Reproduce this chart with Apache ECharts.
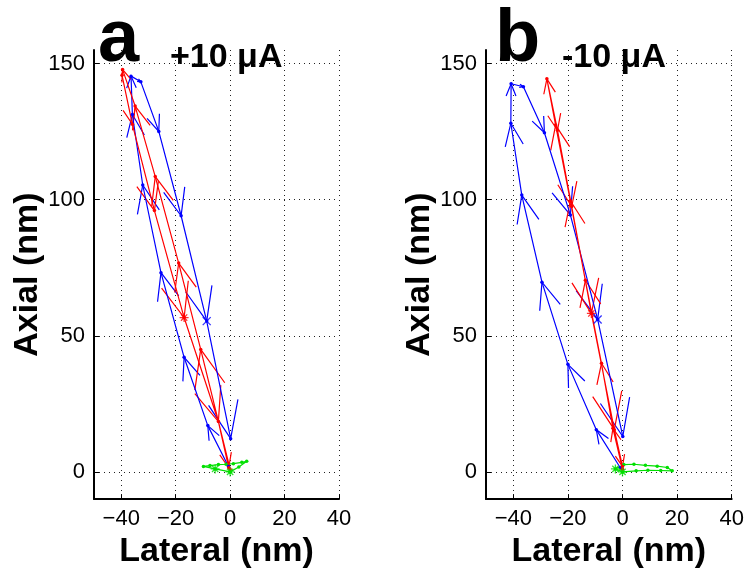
<!DOCTYPE html>
<html>
<head>
<meta charset="utf-8">
<script src="https://cdn.jsdelivr.net/npm/echarts@6/dist/echarts.min.js"></script>
<style>
  html, body { margin: 0; padding: 0; background: #fff; }
  #chart { width: 750px; height: 574px; }
</style>
</head>
<body>
<div id="chart"></div>
<script>
// tick values
const xTicks = [-40, -20, 0, 20, 40]
const yTicks = [0, 50, 100, 150]

// panel a, +10 uA  (lateral nm, axial nm), in time order
const blueA = [[-0.6, 2.0], [-8.2, 17.0], [-16.9, 42.1], [-25.4, 73.2], [-32.1, 105.4], [-35.9, 131.3],
  [-36.4, 145.4], [-32.8, 143.3], [-26.2, 125.1], [-18.0, 94.1], [-8.6, 55.4], [0.2, 12.2]]
const redA = [[0, 1], [-10.8, 45.0], [-18.9, 76.7], [-27.5, 108.5], [-34.9, 134.4], [-39.5, 147.8],
  [-39.7, 145.7], [-35.9, 127.7], [-27.8, 96.0], [-16.9, 56.7], [-4.3, 18.5], [-0.5, 1.5]]
const greenA = [[0, 0], [-5.5, 1.1], [-9.8, 2.0], [-7.4, 2.3], [-4.3, 2.7], [-1.5, 2.8], [1.2, 3.0],
  [4.3, 3.5], [6.1, 3.9], [3.2, 1.8], [0, 0]]
const blueMarkA = [[-8.6, 55.4]]
const redMarkA = [[-16.9, 56.7]]
const greenMarkA = [[0, 0], [-5.5, 1.1]]

// panel b, -10 uA
const blueB = [[-0.8, 1.5], [-9.6, 15.5], [-20.0, 39.5], [-29.5, 69.7], [-36.9, 101.7], [-40.9, 128.1],
  [-40.8, 142.6], [-36.3, 141.5], [-28.6, 124.6], [-19.1, 94.4], [-9.1, 56.0], [0.1, 13.0]]
const redB = [[0, 1], [-3.5, 16.0], [-7.7, 39.9], [-13.6, 70.4], [-19.1, 99.6], [-24.5, 127.4],
  [-27.7, 144.4], [-23.8, 125.5], [-18.6, 97.5], [-11.4, 58.2], [-3.0, 15.5], [0, 2]]
const greenB = [[0, 0], [-2.6, 1.1], [0.5, 2.7], [4.2, 2.8], [8.4, 2.4], [12.7, 2.1], [16.4, 1.6],
  [18.2, 0.4], [14.0, 0.5], [9.3, 0.6], [5.0, 0.4], [0, 0]]
const blueMarkB = [[-9.1, 56.0]]
const redMarkB = [[-11.4, 58.2]]
const greenMarkB = [[0, 0], [-2.6, 1.1]]

const FONT = '"Liberation Sans", Arial, sans-serif'
const BLUE = '#0000ff', RED = '#ff0000', GREEN = '#00e000'

const xSym = 'path://M0,0L10,10M10,0L0,10'
const starSym = 'path://M5,0L5,10M0,5L10,5M1.5,1.5L8.5,8.5M8.5,1.5L1.5,8.5'

function minus(v) {
  return String(v).replace('-', '\u2212')
}

function xAxis(gi) {
  return {
    type: 'value', gridIndex: gi, min: -50, max: 40,
    name: 'Lateral (nm)', nameLocation: 'middle', nameGap: 31,
    nameTextStyle: { fontFamily: FONT, fontWeight: 'bold', fontSize: 34, color: '#000' },
    axisLine: { onZero: false, lineStyle: { color: '#000', width: 2 } },
    axisTick: { inside: true, length: 5, customValues: xTicks, lineStyle: { color: '#000' } },
    axisLabel: { customValues: xTicks, formatter: minus, fontFamily: FONT, fontSize: 22, color: '#000', margin: 9 },
    splitLine: { show: true, lineStyle: { type: [1, 4], color: '#222', width: 1 } }
  }
}

function yAxis(gi) {
  return {
    type: 'value', gridIndex: gi, min: -10, max: 155,
    name: 'Axial (nm)', nameLocation: 'middle', nameGap: 49,
    nameTextStyle: { fontFamily: FONT, fontWeight: 'bold', fontSize: 34, color: '#000' },
    axisLine: { show: true, onZero: false, lineStyle: { color: '#000', width: 2 } },
    axisTick: { inside: true, length: 5, customValues: yTicks, lineStyle: { color: '#000' } },
    axisLabel: { customValues: yTicks, formatter: minus, fontFamily: FONT, fontSize: 22, color: '#000', margin: 9 },
    splitLine: { show: true, lineStyle: { type: [1, 4], color: '#222', width: 1 } }
  }
}

function segments(path) {
  let out = []
  for (let i = 1; i < path.length; i++) {
    out.push([path[i - 1][0], path[i - 1][1], path[i][0], path[i][1]])
  }
  return out
}

// open "V" arrowhead at the end of every segment, pointing along the travel
function arrowHead(color) {
  return function (params, api) {
    let p0 = api.coord([api.value(0), api.value(1)])
    let p1 = api.coord([api.value(2), api.value(3)])
    let dx = p0[0] - p1[0], dy = p0[1] - p1[1]
    let len = Math.sqrt(dx * dx + dy * dy)
    if (len < 2) return
    let L = len / 3, a = Math.atan2(dy, dx), s = 22 * Math.PI / 180
    let b1 = [p1[0] + L * Math.cos(a + s), p1[1] + L * Math.sin(a + s)]
    let b2 = [p1[0] + L * Math.cos(a - s), p1[1] + L * Math.sin(a - s)]
    return {
      type: 'polyline',
      shape: { points: [b1, p1, b2] },
      style: { stroke: color, lineWidth: 1.2, fill: null }
    }
  }
}

function pathSeries(gi, data, color, arrows) {
  let list = [{
    type: 'line', xAxisIndex: gi, yAxisIndex: gi, data: data,
    symbol: 'circle', symbolSize: 3.5, showSymbol: true,
    lineStyle: { color: color, width: 1.2 }, itemStyle: { color: color },
    z: 3
  }]
  if (arrows) {
    list.push({
      type: 'custom', xAxisIndex: gi, yAxisIndex: gi, data: segments(data),
      encode: { x: [0, 2], y: [1, 3] }, renderItem: arrowHead(color), z: 3
    })
  }
  return list
}

function markSeries(gi, data, color, sym, size) {
  return {
    type: 'scatter', xAxisIndex: gi, yAxisIndex: gi, data: data,
    symbol: sym, symbolSize: size,
    itemStyle: { color: 'rgba(0,0,0,0)', borderColor: color, borderWidth: 1.3 },
    z: 4
  }
}

let chart = echarts.init(document.getElementById('chart'))
let option = {
  animation: false,
  backgroundColor: '#fff',
  grid: [
    { left: 94, top: 50, width: 245, height: 450 },
    { left: 486, top: 50, width: 245.7, height: 450 }
  ],
  xAxis: [xAxis(0), xAxis(1)],
  yAxis: [yAxis(0), yAxis(1)],
  graphic: [
    { type: 'text', x: 98, y: 41, style: { text: 'a', font: 'bold 74px ' + FONT, fill: '#000', verticalAlign: 'middle' } },
    { type: 'text', x: 170, y: 58, style: { text: '+10 \u03bcA', font: 'bold 34px ' + FONT, fill: '#000', verticalAlign: 'middle' } },
    { type: 'text', x: 495, y: 41, style: { text: 'b', font: 'bold 74px ' + FONT, fill: '#000', verticalAlign: 'middle' } },
    { type: 'text', x: 562, y: 58, style: { text: '-10 \u03bcA', font: 'bold 34px ' + FONT, fill: '#000', verticalAlign: 'middle' } }
  ],
  series: [].concat(
    pathSeries(0, greenA, GREEN, false),
    pathSeries(0, blueA, BLUE, true),
    pathSeries(0, redA, RED, true),
    [markSeries(0, blueMarkA, BLUE, xSym, 8), markSeries(0, redMarkA, RED, starSym, 9), markSeries(0, greenMarkA, GREEN, starSym, 9)],
    pathSeries(1, greenB, GREEN, false),
    pathSeries(1, blueB, BLUE, true),
    pathSeries(1, redB, RED, true),
    [markSeries(1, blueMarkB, BLUE, xSym, 8), markSeries(1, redMarkB, RED, starSym, 9), markSeries(1, greenMarkB, GREEN, starSym, 9)]
  )
}
chart.setOption(option)
</script>
</body>
</html>
